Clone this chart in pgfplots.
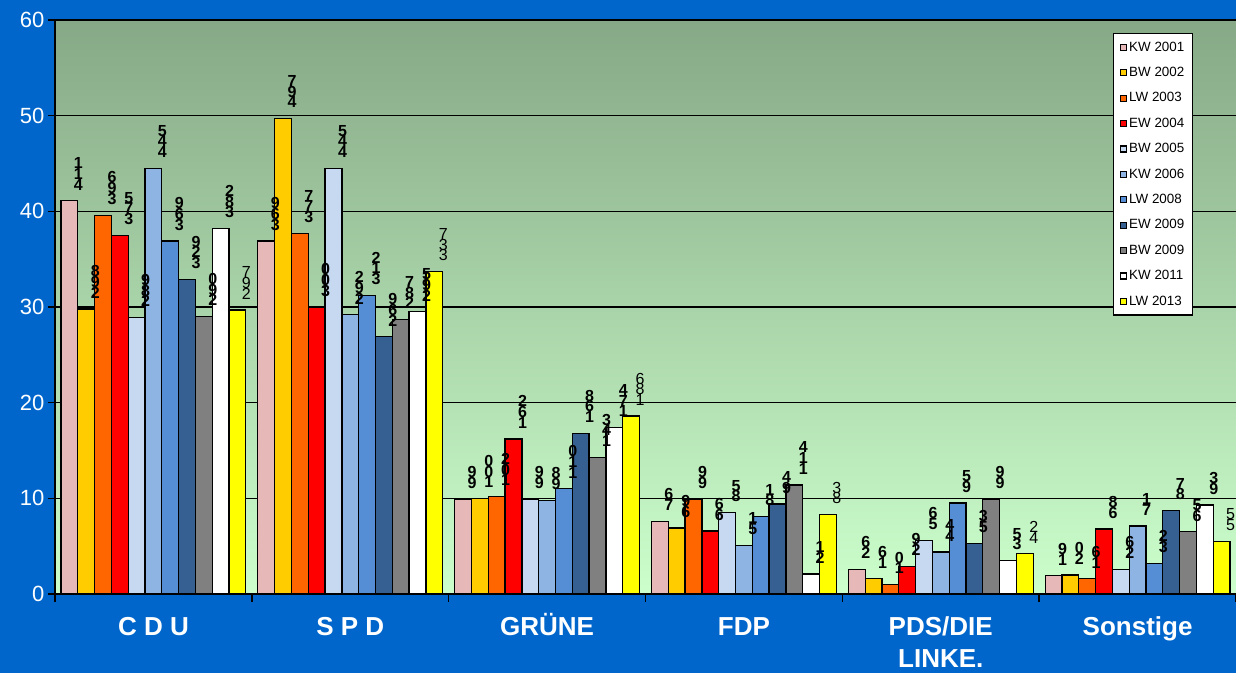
\documentclass[border=0pt]{standalone}
\usepackage{pgfplots}
\pgfplotsset{compat=1.18}
\usepackage{fontspec}
\setmainfont{Liberation Sans}
\usetikzlibrary{calc}
\pgfdeclarelayer{bg}
\pgfsetlayers{bg,main}

\definecolor{bgblue}{HTML}{0066CC}
\definecolor{gtop}{HTML}{86A886}
\definecolor{gbot}{HTML}{CCFFCC}
\definecolor{cA}{HTML}{E6B9B8}
\definecolor{cB}{HTML}{FFCC00}
\definecolor{cC}{HTML}{FF6600}
\definecolor{cD}{HTML}{FF0000}
\definecolor{cE}{HTML}{C6D9F1}
\definecolor{cF}{HTML}{8EB4E3}
\definecolor{cG}{HTML}{558ED5}
\definecolor{cH}{HTML}{376092}
\definecolor{cI}{HTML}{808080}
\definecolor{cJ}{HTML}{FFFFFF}
\definecolor{cK}{HTML}{FFFF00}

\makeatletter
\def\stk#1{\edef\stk@v{#1}\def\stk@out{}\expandafter\stk@a\stk@v\relax
  \vbox{\baselineskip=10.7pt\lineskiplimit=-50pt\lineskip=0pt\stk@out}}
\def\stk@a#1{\ifx#1\relax\else\edef\stk@out{\noexpand\stk@b{#1}\unexpanded\expandafter{\stk@out}}\expandafter\stk@a\fi}
\def\stk@b#1{\hbox to 12pt{\hss#1\hss}}
\makeatother

\begin{document}
\begin{tikzpicture}
\begin{axis}[
  scale only axis, width=1181pt, height=574pt,
  ybar=0pt, bar width=16.8pt,
  xmin=-0.5, xmax=5.5, ymin=0, ymax=60,
  axis x line*=bottom, axis y line*=left,
  axis line style={black, line width=1.5pt},
  axis background/.style={top color=gtop, bottom color=gbot},
  ytick={0,10,...,50}, extra y ticks={60},
  extra y tick style={grid style={gray, line width=1.5pt}},
  ymajorgrids, major grid style={black, line width=1.5pt},
  xtick={0,...,5},
  xticklabels={\strut C D U, \strut S P D, \strut GRÜNE, \strut FDP, {\strut PDS/DIE\\LINKE.}, \strut Sonstige},
  minor xtick={-0.5,0.5,...,5.5},
  tick align=outside, major tick length=7pt, minor tick length=8pt,
  major x tick style={draw=none},
  minor x tick style={draw=black, line width=1.5pt},
  y tick style={black, line width=1.5pt},
  /pgf/number format/assume math mode=true,
  yticklabel style={font=\fontsize{22}{26}\selectfont, text=white},
  xticklabel style={font=\fontsize{26}{32}\selectfont\bfseries, text=white, align=center, yshift=-9pt},
  every axis plot/.append style={draw=black, line width=1.3pt},
  point meta=explicit symbolic,
  nodes near coords={\stk{\pgfplotspointmeta}},
  every node near coord/.append style={anchor=south, inner sep=0pt, xshift=9pt, yshift=10pt, font=\fontsize{16}{11}\selectfont\bfseries, text=black},
  legend style={at={(rel axis cs:0.8958,0.9774)}, anchor=north west, draw=black, line width=1.3pt, fill=white,
    font=\fontsize{13.4}{15}\selectfont, inner xsep=6.5pt, inner ysep=5.5pt, row sep=8.9pt,
    nodes={inner sep=2pt, text height=10pt, text depth=2.5pt}},
  legend cell align=left,
  legend image code/.code={\draw[#1, line width=1.1pt] (0pt,-3pt) rectangle (6pt,3pt);},
]
\coordinate (SW) at (rel axis cs:0,0);
\coordinate (NE) at (rel axis cs:1,1);
\addplot[fill=cA] coordinates {(0,41.1)[411] (1,36.9)[369] (2,9.9)[99] (3,7.6)[76] (4,2.6)[26] (5,1.9)[19]};
\addplot[fill=cB] coordinates {(0,29.8)[298] (1,49.7)[497] (2,10.0)[100] (3,6.9)[69] (4,1.6)[16] (5,2.0)[20]};
\addplot[fill=cC] coordinates {(0,39.6)[396] (1,37.7)[377] (2,10.2)[102] (3,9.9)[99] (4,1.0)[10] (5,1.6)[16]};
\addplot[fill=cD] coordinates {(0,37.5)[375] (1,30.0)[300] (2,16.2)[162] (3,6.6)[66] (4,2.9)[29] (5,6.8)[68]};
\addplot[fill=cE] coordinates {(0,28.9)[289] (1,44.5)[445] (2,9.9)[99] (3,8.5)[85] (4,5.6)[56] (5,2.6)[26]};
\addplot[fill=cF] coordinates {(0,44.5)[445] (1,29.2)[292] (2,9.8)[98] (3,5.1)[51] (4,4.4)[44] (5,7.1)[71]};
\addplot[fill=cG] coordinates {(0,36.9)[369] (1,31.2)[312] (2,11.0)[110] (3,8.1)[81] (4,9.5)[95] (5,3.2)[32]};
\addplot[fill=cH] coordinates {(0,32.9)[329] (1,26.9)[269] (2,16.8)[168] (3,9.4)[94] (4,5.3)[53] (5,8.7)[87]};
\addplot[fill=cI] coordinates {(0,29.0)[290] (1,28.7)[287] (2,14.3)[143] (3,11.4)[114] (4,9.9)[99] (5,6.5)[65]};
\addplot[fill=cJ] coordinates {(0,38.2)[382] (1,29.5)[295] (2,17.4)[174] (3,2.1)[21] (4,3.5)[35] (5,9.3)[93]};
\addplot[fill=cK, every node near coord/.append style={font=\fontsize{16}{11}\selectfont\mdseries}] coordinates {(0,29.7)[297] (1,33.7)[337] (2,18.6)[186] (3,8.3)[83] (4,4.2)[42] (5,5.5)[55]};
\legend{KW 2001, BW 2002, LW 2003, EW 2004, BW 2005, KW 2006, LW 2008, EW 2009, BW 2009, KW 2011, LW 2013}
\end{axis}
\begin{pgfonlayer}{bg}
\fill[bgblue] ([xshift=-55pt,yshift=-79pt]SW) rectangle ([yshift=20pt]NE);
\end{pgfonlayer}
\pgfresetboundingbox
\useasboundingbox ([xshift=-55pt,yshift=-79pt]SW) rectangle ([yshift=20pt]NE);
\end{tikzpicture}
\end{document}
